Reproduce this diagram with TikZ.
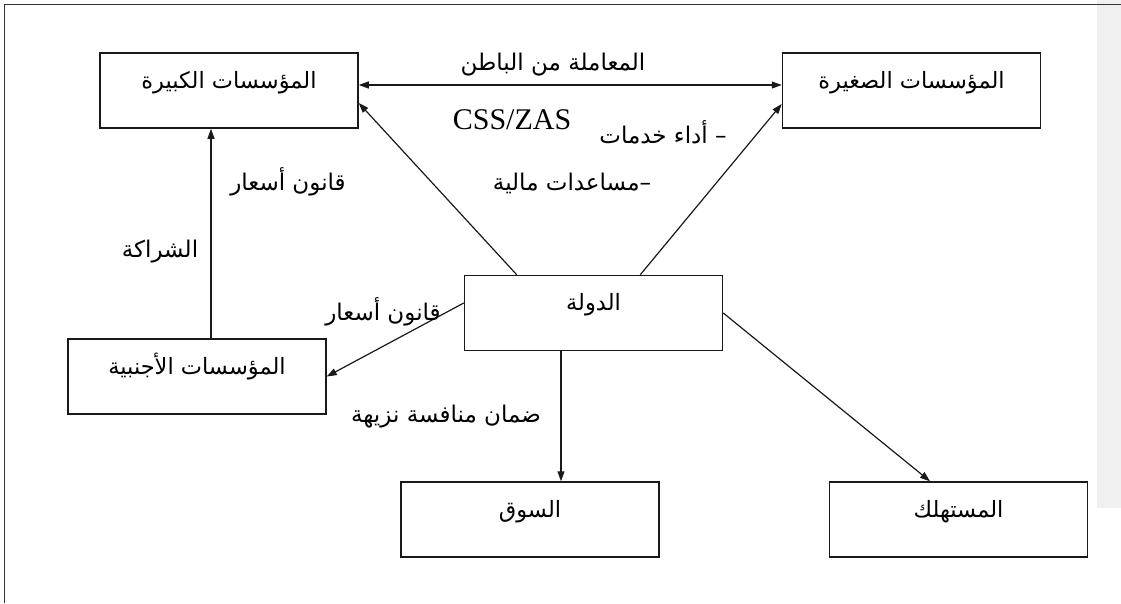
\documentclass[tikz,border=0pt]{standalone}
\usepackage{fontspec}
\setmainfont{Liberation Serif}
\newfontfamily\arabicfont[Script=Arabic]{DejaVu Sans}
\TeXXeTstate=1
\usetikzlibrary{arrows.meta,calc}

\begin{document}
\begin{tikzpicture}[x=1pt,y=-1pt,
  stepbox/.style={draw=black!90, line width=1.5pt, minimum width=258pt,
    inner xsep=0pt, inner ysep=0pt, text height=35pt, text depth=40pt,
    font=\arabicfont\fontsize{22.5}{26}\selectfont},
  lbl/.style={inner sep=0pt, font=\arabicfont\fontsize{23}{27}\selectfont},
  latinlbl/.style={inner sep=0pt, font=\fontsize{30}{33}\selectfont},
  tip/.style={Triangle[length=10pt,width=7pt]},
  link/.style={draw=black!90, line width=1.2pt, -{Triangle[length=10pt,width=7pt]}},
  frameline/.style={draw=black!80, line width=1.6pt}]

  % canvas and page frame
  \useasboundingbox (0,0) rectangle (1121,603);
  \fill[white] (0,0) rectangle (1121,603);
  \fill[black!6] (1097,0) rectangle (1121,508);
  \draw[frameline] (4.5,603) -- (4.5,4.5) -- (1121,4.5);

  % boxes
  \node[stepbox] (big) at (229,90.5)   {\beginR المؤسسات الكبيرة\endR};
  \node[stepbox] (sm)  at (911.5,90.5) {\beginR المؤسسات الصغيرة\endR};
  \node[stepbox] (fo)  at (197,376.5)  {\beginR المؤسسات الأجنبية\endR};
  \node[stepbox] (st)  at (593.5,313)  {\beginR الدولة\endR};
  \node[stepbox] (mk)  at (530,519.5)  {\beginR السوق\endR};
  \node[stepbox] (co)  at (958.5,519.5){\beginR المستهلك\endR};

  % connectors
  \draw[link, {Triangle[length=10pt,width=7pt]}-{Triangle[length=10pt,width=7pt]}]
    ([yshift=5.5pt]big.east) -- ([yshift=5.5pt]sm.west);
  \draw[link] ([xshift=53pt]st.north west) -- ([yshift=-12.5pt]big.east);
  \draw[link] ([xshift=-83pt]st.north east) -- ([yshift=-13.5pt]sm.west);
  \draw[link] ([yshift=10pt]st.west) -- (fo.east);
  \draw[link] ([xshift=-32.5pt]st.south) -- ([xshift=-32.5pt]st.south |- mk.north);
  \draw[link] (st.east) -- ([xshift=-28.5pt]co.north);
  \draw[link] ([xshift=14pt]fo.north) -- ([xshift=14pt]fo.north |- big.south);

  % connector labels
  \node[lbl] (l1) at (553,65)  {\beginR المعاملة من الباطن\endR};
  \node[latinlbl] (l2) at (512,120) {CSS/ZAS};
  \node[lbl] (l3) at (663,132) {\beginR – أداء خدمات\endR};
  \node[lbl] (l4) at (572,183) {\beginR –مساعدات مالية\endR};
  \node[lbl] (l5) at (288,182) {\beginR قانون أسعار\endR};
  \node[lbl] (l6) at (160,252) {\beginR الشراكة\endR};
  \node[lbl] (l7) at (383,312) {\beginR قانون أسعار\endR};
  \node[lbl] (l8) at (446,417) {\beginR ضمان منافسة نزيهة\endR};
\end{tikzpicture}
\end{document}
